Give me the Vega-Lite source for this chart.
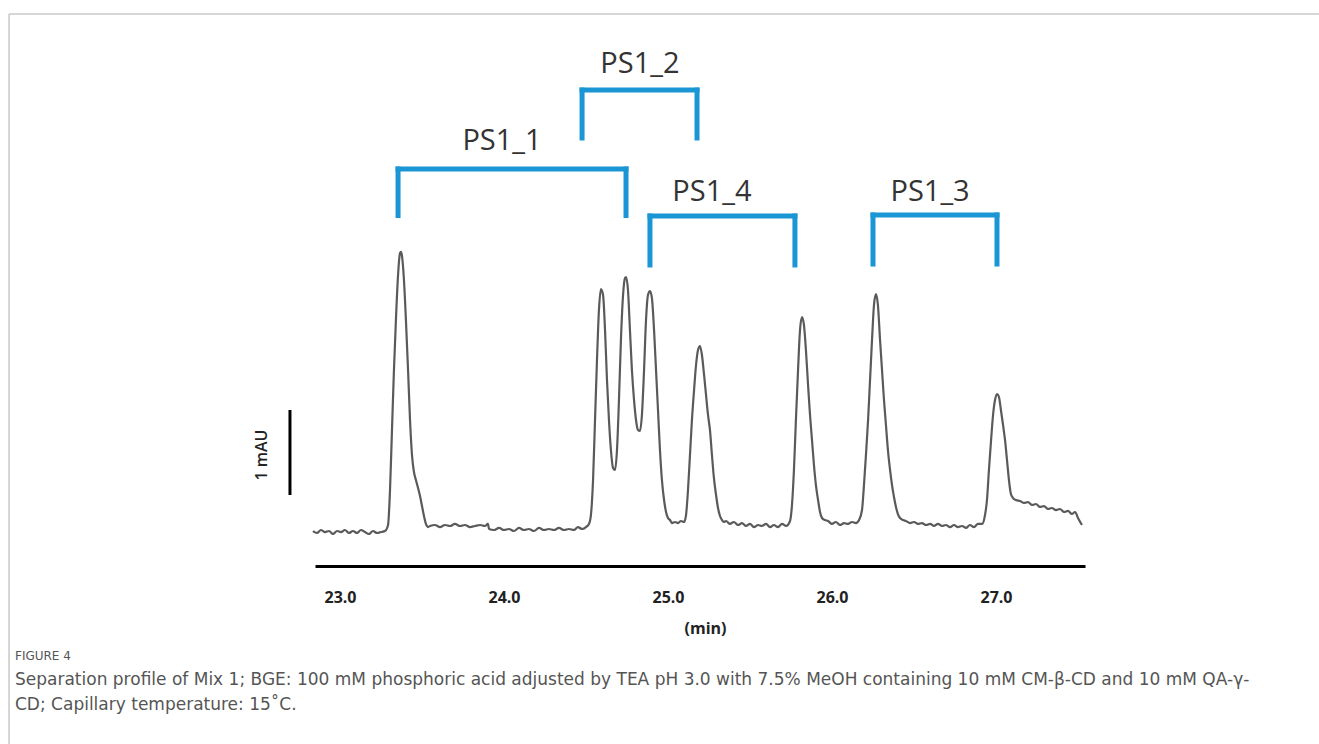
{
  "$schema": "https://vega.github.io/schema/vega-lite/v6.json",
  "width": 770,
  "height": 566,
  "autosize": {"type": "none"},
  "padding": {"left": 315, "top": 0, "right": 234, "bottom": 178},
  "background": "white",
  "config": {"view": {"stroke": null}, "font": "Open Sans"},
  "title": {
    "text": "FIGURE 4",
    "subtitle": ["Separation profile of Mix 1; BGE: 100 mM phosphoric acid adjusted by TEA pH 3.0 with 7.5% MeOH containing 10 mM CM-β-CD and 10 mM QA-γ-", "CD; Capillary temperature: 15˚C."],
    "orient": "bottom",
    "anchor": "start",
    "frame": "group",
    "dx": -300,
    "offset": -94,
    "font": "DejaVu Sans",
    "fontSize": 12,
    "fontWeight": "normal",
    "color": "#555555",
    "subtitleFont": "DejaVu Sans",
    "subtitleFontSize": 17,
    "subtitleColor": "#555555",
    "subtitleLineHeight": 25,
    "subtitlePadding": 9
  },
  "datasets": {
    "trace": [
      {"t": 22.835, "mAU": -0.012}, {"t": 22.860, "mAU": -0.035}, {"t": 22.884, "mAU": 0}, {"t": 22.909, "mAU": -0.024},
      {"t": 22.933, "mAU": -0.012}, {"t": 22.957, "mAU": -0.047}, {"t": 22.982, "mAU": -0.012}, {"t": 23.006, "mAU": -0.024},
      {"t": 23.030, "mAU": 0}, {"t": 23.055, "mAU": -0.035}, {"t": 23.079, "mAU": -0.012}, {"t": 23.104, "mAU": -0.035},
      {"t": 23.128, "mAU": 0}, {"t": 23.152, "mAU": -0.024}, {"t": 23.177, "mAU": -0.047}, {"t": 23.201, "mAU": -0.012},
      {"t": 23.226, "mAU": -0.035}, {"t": 23.250, "mAU": -0.024}, {"t": 23.274, "mAU": -0.012},
      {"t": 23.293, "mAU": 0.059}, {"t": 23.305, "mAU": 0.471}, {"t": 23.317, "mAU": 1.176}, {"t": 23.329, "mAU": 1.882},
      {"t": 23.341, "mAU": 2.471}, {"t": 23.354, "mAU": 3.0}, {"t": 23.366, "mAU": 3.259}, {"t": 23.372, "mAU": 3.271},
      {"t": 23.378, "mAU": 3.224}, {"t": 23.390, "mAU": 2.941}, {"t": 23.402, "mAU": 2.471}, {"t": 23.415, "mAU": 1.882},
      {"t": 23.427, "mAU": 1.294}, {"t": 23.439, "mAU": 0.882}, {"t": 23.451, "mAU": 0.682}, {"t": 23.463, "mAU": 0.588},
      {"t": 23.476, "mAU": 0.494}, {"t": 23.488, "mAU": 0.4}, {"t": 23.500, "mAU": 0.282}, {"t": 23.512, "mAU": 0.165},
      {"t": 23.524, "mAU": 0.071}, {"t": 23.537, "mAU": 0.035},
      {"t": 23.549, "mAU": 0.047}, {"t": 23.579, "mAU": 0.059}, {"t": 23.610, "mAU": 0.035}, {"t": 23.640, "mAU": 0.059},
      {"t": 23.671, "mAU": 0.047}, {"t": 23.701, "mAU": 0.071}, {"t": 23.732, "mAU": 0.047}, {"t": 23.762, "mAU": 0.059},
      {"t": 23.793, "mAU": 0.035}, {"t": 23.823, "mAU": 0.047}, {"t": 23.854, "mAU": 0.059}, {"t": 23.884, "mAU": 0.047},
      {"t": 23.902, "mAU": 0.071}, {"t": 23.909, "mAU": 0.012}, {"t": 23.939, "mAU": 0}, {"t": 23.970, "mAU": 0.024},
      {"t": 24.000, "mAU": 0}, {"t": 24.030, "mAU": 0.012}, {"t": 24.061, "mAU": -0.012}, {"t": 24.091, "mAU": 0.024},
      {"t": 24.122, "mAU": 0}, {"t": 24.152, "mAU": 0.012}, {"t": 24.183, "mAU": -0.012}, {"t": 24.213, "mAU": 0.024},
      {"t": 24.244, "mAU": 0}, {"t": 24.274, "mAU": 0.012}, {"t": 24.305, "mAU": 0}, {"t": 24.335, "mAU": 0.024},
      {"t": 24.366, "mAU": 0}, {"t": 24.396, "mAU": 0.012}, {"t": 24.427, "mAU": 0}, {"t": 24.451, "mAU": 0.035},
      {"t": 24.476, "mAU": 0.012}, {"t": 24.500, "mAU": 0.035}, {"t": 24.518, "mAU": 0.071},
      {"t": 24.530, "mAU": 0.176}, {"t": 24.543, "mAU": 0.588}, {"t": 24.555, "mAU": 1.294}, {"t": 24.567, "mAU": 2.0},
      {"t": 24.579, "mAU": 2.588}, {"t": 24.591, "mAU": 2.835}, {"t": 24.604, "mAU": 2.765}, {"t": 24.616, "mAU": 2.353},
      {"t": 24.628, "mAU": 1.765}, {"t": 24.640, "mAU": 1.294}, {"t": 24.652, "mAU": 0.941}, {"t": 24.665, "mAU": 0.729},
      {"t": 24.677, "mAU": 0.706}, {"t": 24.689, "mAU": 0.941}, {"t": 24.701, "mAU": 1.529}, {"t": 24.713, "mAU": 2.235},
      {"t": 24.726, "mAU": 2.765}, {"t": 24.738, "mAU": 2.965}, {"t": 24.744, "mAU": 2.976}, {"t": 24.756, "mAU": 2.824},
      {"t": 24.768, "mAU": 2.353}, {"t": 24.780, "mAU": 1.882}, {"t": 24.793, "mAU": 1.529}, {"t": 24.805, "mAU": 1.294},
      {"t": 24.817, "mAU": 1.176}, {"t": 24.829, "mAU": 1.165}, {"t": 24.841, "mAU": 1.353}, {"t": 24.854, "mAU": 1.882},
      {"t": 24.866, "mAU": 2.471}, {"t": 24.878, "mAU": 2.765}, {"t": 24.890, "mAU": 2.812}, {"t": 24.902, "mAU": 2.729},
      {"t": 24.915, "mAU": 2.353}, {"t": 24.927, "mAU": 1.882}, {"t": 24.939, "mAU": 1.412}, {"t": 24.951, "mAU": 0.941},
      {"t": 24.963, "mAU": 0.588}, {"t": 24.976, "mAU": 0.353}, {"t": 24.988, "mAU": 0.212}, {"t": 25.000, "mAU": 0.141},
      {"t": 25.012, "mAU": 0.118}, {"t": 25.024, "mAU": 0.082}, {"t": 25.043, "mAU": 0.094}, {"t": 25.061, "mAU": 0.082},
      {"t": 25.079, "mAU": 0.106}, {"t": 25.098, "mAU": 0.094},
      {"t": 25.110, "mAU": 0.176}, {"t": 25.122, "mAU": 0.471}, {"t": 25.134, "mAU": 0.882}, {"t": 25.146, "mAU": 1.294},
      {"t": 25.159, "mAU": 1.647}, {"t": 25.171, "mAU": 1.941}, {"t": 25.183, "mAU": 2.118}, {"t": 25.195, "mAU": 2.165},
      {"t": 25.207, "mAU": 2.059}, {"t": 25.220, "mAU": 1.824}, {"t": 25.232, "mAU": 1.588}, {"t": 25.244, "mAU": 1.353},
      {"t": 25.256, "mAU": 1.176}, {"t": 25.268, "mAU": 0.882}, {"t": 25.280, "mAU": 0.612}, {"t": 25.293, "mAU": 0.412},
      {"t": 25.305, "mAU": 0.259}, {"t": 25.317, "mAU": 0.165}, {"t": 25.329, "mAU": 0.118}, {"t": 25.341, "mAU": 0.094},
      {"t": 25.354, "mAU": 0.106}, {"t": 25.378, "mAU": 0.071}, {"t": 25.402, "mAU": 0.094}, {"t": 25.427, "mAU": 0.059},
      {"t": 25.451, "mAU": 0.082}, {"t": 25.476, "mAU": 0.047}, {"t": 25.500, "mAU": 0.071}, {"t": 25.524, "mAU": 0.035},
      {"t": 25.549, "mAU": 0.059}, {"t": 25.573, "mAU": 0.047}, {"t": 25.598, "mAU": 0.071}, {"t": 25.622, "mAU": 0.035},
      {"t": 25.646, "mAU": 0.059}, {"t": 25.671, "mAU": 0.035}, {"t": 25.695, "mAU": 0.071}, {"t": 25.720, "mAU": 0.047},
      {"t": 25.744, "mAU": 0.106}, {"t": 25.756, "mAU": 0.294}, {"t": 25.768, "mAU": 0.706}, {"t": 25.780, "mAU": 1.294},
      {"t": 25.793, "mAU": 1.882}, {"t": 25.805, "mAU": 2.353}, {"t": 25.817, "mAU": 2.506}, {"t": 25.829, "mAU": 2.412},
      {"t": 25.841, "mAU": 2.118}, {"t": 25.854, "mAU": 1.706}, {"t": 25.866, "mAU": 1.353}, {"t": 25.878, "mAU": 1.059},
      {"t": 25.890, "mAU": 0.765}, {"t": 25.902, "mAU": 0.529}, {"t": 25.915, "mAU": 0.353}, {"t": 25.927, "mAU": 0.212},
      {"t": 25.939, "mAU": 0.141}, {"t": 25.957, "mAU": 0.118},
      {"t": 25.976, "mAU": 0.106}, {"t": 26.000, "mAU": 0.071}, {"t": 26.024, "mAU": 0.094}, {"t": 26.049, "mAU": 0.059},
      {"t": 26.073, "mAU": 0.082}, {"t": 26.098, "mAU": 0.071}, {"t": 26.122, "mAU": 0.094}, {"t": 26.146, "mAU": 0.082},
      {"t": 26.165, "mAU": 0.118},
      {"t": 26.183, "mAU": 0.235}, {"t": 26.195, "mAU": 0.529}, {"t": 26.207, "mAU": 0.882}, {"t": 26.220, "mAU": 1.294},
      {"t": 26.232, "mAU": 1.765}, {"t": 26.244, "mAU": 2.235}, {"t": 26.256, "mAU": 2.647}, {"t": 26.268, "mAU": 2.776},
      {"t": 26.280, "mAU": 2.647}, {"t": 26.293, "mAU": 2.235}, {"t": 26.305, "mAU": 1.882}, {"t": 26.317, "mAU": 1.529},
      {"t": 26.329, "mAU": 1.235}, {"t": 26.341, "mAU": 0.941}, {"t": 26.354, "mAU": 0.706}, {"t": 26.366, "mAU": 0.529},
      {"t": 26.378, "mAU": 0.388}, {"t": 26.390, "mAU": 0.271}, {"t": 26.402, "mAU": 0.188}, {"t": 26.415, "mAU": 0.141},
      {"t": 26.433, "mAU": 0.118},
      {"t": 26.451, "mAU": 0.106}, {"t": 26.476, "mAU": 0.082}, {"t": 26.500, "mAU": 0.094}, {"t": 26.524, "mAU": 0.071},
      {"t": 26.549, "mAU": 0.082}, {"t": 26.573, "mAU": 0.059}, {"t": 26.598, "mAU": 0.071}, {"t": 26.622, "mAU": 0.047},
      {"t": 26.646, "mAU": 0.071}, {"t": 26.671, "mAU": 0.047}, {"t": 26.695, "mAU": 0.059}, {"t": 26.720, "mAU": 0.035},
      {"t": 26.744, "mAU": 0.059}, {"t": 26.768, "mAU": 0.035}, {"t": 26.793, "mAU": 0.047}, {"t": 26.817, "mAU": 0.024},
      {"t": 26.841, "mAU": 0.059}, {"t": 26.866, "mAU": 0.035}, {"t": 26.890, "mAU": 0.071}, {"t": 26.915, "mAU": 0.071},
      {"t": 26.933, "mAU": 0.176}, {"t": 26.945, "mAU": 0.353}, {"t": 26.957, "mAU": 0.706}, {"t": 26.970, "mAU": 1.059},
      {"t": 26.982, "mAU": 1.353}, {"t": 26.994, "mAU": 1.529}, {"t": 27.006, "mAU": 1.6}, {"t": 27.018, "mAU": 1.565},
      {"t": 27.030, "mAU": 1.412}, {"t": 27.043, "mAU": 1.235}, {"t": 27.055, "mAU": 1.059}, {"t": 27.067, "mAU": 0.824},
      {"t": 27.079, "mAU": 0.588}, {"t": 27.091, "mAU": 0.424}, {"t": 27.104, "mAU": 0.376}, {"t": 27.122, "mAU": 0.353},
      {"t": 27.146, "mAU": 0.341}, {"t": 27.171, "mAU": 0.318}, {"t": 27.195, "mAU": 0.329}, {"t": 27.220, "mAU": 0.294},
      {"t": 27.244, "mAU": 0.306}, {"t": 27.268, "mAU": 0.271}, {"t": 27.293, "mAU": 0.282}, {"t": 27.317, "mAU": 0.247},
      {"t": 27.341, "mAU": 0.259}, {"t": 27.366, "mAU": 0.235}, {"t": 27.390, "mAU": 0.247}, {"t": 27.415, "mAU": 0.212},
      {"t": 27.439, "mAU": 0.224}, {"t": 27.463, "mAU": 0.188}, {"t": 27.482, "mAU": 0.212}, {"t": 27.500, "mAU": 0.141},
      {"t": 27.524, "mAU": 0.059}
    ],
    "brackets": [
      {"name": "PS1_1", "start": 23.354, "end": 24.744, "top": 4.247, "bottom": 3.70, "label_t": 23.988, "label_y": 4.476},
      {"name": "PS1_2", "start": 24.476, "end": 25.177, "top": 5.176, "bottom": 4.612, "label_t": 24.829, "label_y": 5.371},
      {"name": "PS1_4", "start": 24.890, "end": 25.774, "top": 3.694, "bottom": 3.118, "label_t": 25.268, "label_y": 3.876},
      {"name": "PS1_3", "start": 26.250, "end": 27.006, "top": 3.706, "bottom": 3.129, "label_t": 26.598, "label_y": 3.876}
    ],
    "scalebar": [
      {"t": 22.695, "low": 0.412, "high": 1.412, "label": "1 mAU", "label_t": 22.524, "label_y": 0.882}
    ],
    "frame": [
      {"t1": 20.982, "t2": 28.98, "y1": 6.071, "y2": -2.5176}
    ]
  },
  "layer": [
    {
      "data": {"name": "trace"},
      "mark": {"type": "line", "color": "#5a5a5a", "strokeWidth": 2.2, "interpolate": "monotone"},
      "encoding": {
        "x": {"field": "t", "type": "quantitative",
              "scale": {"domain": [22.8476, 27.5427], "nice": false, "zero": false},
              "axis": {"values": [23, 24, 25, 26, 27], "format": ".1f", "title": "(min)", "grid": false, "ticks": false,
                       "domainColor": "#000000", "domainWidth": 3, "labelFont": "Open Sans", "labelFontSize": 16,
                       "labelFontWeight": "bold", "labelColor": "#222222", "labelPadding": 23, "labelFlush": false,
                       "titleFont": "Open Sans", "titleFontSize": 16, "titleFontWeight": "bold", "titleColor": "#222222",
                       "titlePadding": 15, "titleX": 390}},
        "y": {"field": "mAU", "type": "quantitative",
              "scale": {"domain": [-0.4235, 6.2353], "nice": false, "zero": false}, "axis": null}
      }
    },
    {
      "data": {"name": "brackets"},
      "mark": {"type": "rule", "color": "#1a96d4", "strokeWidth": 5, "strokeCap": "square"},
      "encoding": {
        "x": {"field": "start", "type": "quantitative"},
        "x2": {"field": "end"},
        "y": {"field": "top", "type": "quantitative", "axis": null}
      }
    },
    {
      "data": {"name": "brackets"},
      "mark": {"type": "rule", "color": "#1a96d4", "strokeWidth": 5, "strokeCap": "square"},
      "encoding": {
        "x": {"field": "start", "type": "quantitative"},
        "y": {"field": "top", "type": "quantitative", "axis": null},
        "y2": {"field": "bottom"}
      }
    },
    {
      "data": {"name": "brackets"},
      "mark": {"type": "rule", "color": "#1a96d4", "strokeWidth": 5, "strokeCap": "square"},
      "encoding": {
        "x": {"field": "end", "type": "quantitative"},
        "y": {"field": "top", "type": "quantitative", "axis": null},
        "y2": {"field": "bottom"}
      }
    },
    {
      "data": {"name": "brackets"},
      "mark": {"type": "text", "font": "Open Sans", "fontSize": 29, "color": "#333333", "align": "center", "baseline": "alphabetic"},
      "encoding": {
        "x": {"field": "label_t", "type": "quantitative"},
        "y": {"field": "label_y", "type": "quantitative", "axis": null},
        "text": {"field": "name"}
      }
    },
    {
      "data": {"name": "scalebar"},
      "mark": {"type": "rule", "color": "#000000", "strokeWidth": 3},
      "encoding": {
        "x": {"field": "t", "type": "quantitative"},
        "y": {"field": "low", "type": "quantitative", "axis": null},
        "y2": {"field": "high"}
      }
    },
    {
      "data": {"name": "scalebar"},
      "mark": {"type": "text", "font": "Open Sans", "fontSize": 16, "fontWeight": 600, "color": "#222222", "angle": 270, "align": "center", "baseline": "middle"},
      "encoding": {
        "x": {"field": "label_t", "type": "quantitative"},
        "y": {"field": "label_y", "type": "quantitative", "axis": null},
        "text": {"field": "label"}
      }
    },
    {
      "data": {"name": "frame"},
      "mark": {"type": "rule", "color": "#c8c8c8", "strokeWidth": 1.5},
      "encoding": {
        "x": {"field": "t1", "type": "quantitative"},
        "x2": {"field": "t2"},
        "y": {"field": "y1", "type": "quantitative", "axis": null}
      }
    },
    {
      "data": {"name": "frame"},
      "mark": {"type": "rule", "color": "#c8c8c8", "strokeWidth": 1.5},
      "encoding": {
        "x": {"field": "t1", "type": "quantitative"},
        "y": {"field": "y1", "type": "quantitative", "axis": null},
        "y2": {"field": "y2"}
      }
    }
  ]
}
